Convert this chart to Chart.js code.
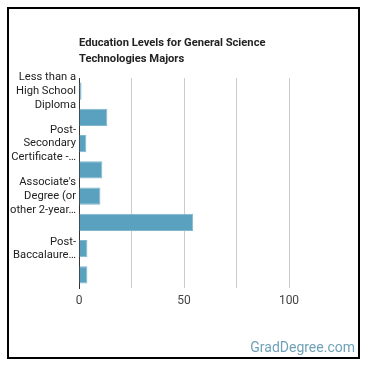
<!DOCTYPE html>
<html>
<head>
<meta charset="utf-8">
<script src="https://cdn.jsdelivr.net/npm/chart.js@4.4.1/dist/chart.umd.min.js"></script>
<style>
  html,body{margin:0;padding:0;background:#fff;}
  #wrap{position:relative;width:370px;height:370px;overflow:hidden;font-family:Roboto,Arial,sans-serif;}
  #frame{position:absolute;left:7px;top:7px;width:349px;height:348px;border:2px solid #000;box-sizing:content-box;pointer-events:none;}
  #title{position:absolute;left:79px;top:35px;font-size:11.2px;font-weight:bold;color:#222;line-height:16px;}
  #mark{position:absolute;right:15px;top:339px;font-size:14px;color:#6fa2b8;}
  canvas{position:absolute;left:0;top:0;}
</style>
</head>
<body>
<div id="wrap">
  <canvas id="c" width="370" height="370"></canvas>
  <div id="title">Education Levels for General Science<br>Technologies Majors</div>
  <div id="mark">GradDegree.com</div>
  <div id="frame"></div>
</div>
<script>
// category names and share of workers (%)
const levels = [
  'Less than a High School Diploma',
  'High School Diploma',
  'Post-Secondary Certificate',
  'Some College Courses',
  "Associate's Degree (or other 2-year degree)",
  "Bachelor's Degree",
  'Post-Baccalaureate Certificate',
  "Master's Degree"
];
// shown label lines (only every other category gets a label, like the original)
const shownLabels = [
  ['Less than a','High School','Diploma'],
  null,
  ['Post-','Secondary','Certificate -…'],
  null,
  ["Associate's",'Degree (or','other 2-year…'],
  null,
  ['Post-','Baccalaure…'],
  null
];
const shares = [1.2, 13.5, 3.5, 11.1, 10.2, 54.4, 4.0, 4.0];
const xTicks = [0, 50, 100];

new Chart(document.getElementById('c'), {
  type: 'bar',
  data: {
    labels: levels,
    datasets: [{
      data: shares,
      backgroundColor: '#5aa1bf',
      borderColor: '#80b7cd',
      borderWidth: 1,
      barPercentage: 0.66,
      categoryPercentage: 1
    }]
  },
  options: {
    indexAxis: 'y',
    responsive: false,
    animation: false,
    layout: { padding: { left: 0, right: 81, top: 78, bottom: 60 } },
    plugins: { legend: { display: false }, tooltip: { enabled: false } },
    scales: {
      x: {
        min: 0, max: 100,
        ticks: {
          stepSize: 25, padding: 6, color: '#444',
          font: { family: 'Roboto', size: 12 },
          callback: v => xTicks.includes(v) ? String(v) : ''
        },
        grid: { color: '#cccccc', drawTicks: false },
        border: { display: false },
        afterFit: s => { s.height = 22; }
      },
      y: {
        ticks: {
          autoSkip: false, padding: 3, color: '#222',
          font: { family: 'Roboto', size: 11.2, lineHeight: 1.22 },
          callback: (v, i) => shownLabels[i] || ''
        },
        grid: { display: false, drawTicks: false },
        border: { color: '#333', width: 1 },
        afterFit: s => { s.width = 79; }
      }
    }
  }
});
</script>
</body>
</html>
